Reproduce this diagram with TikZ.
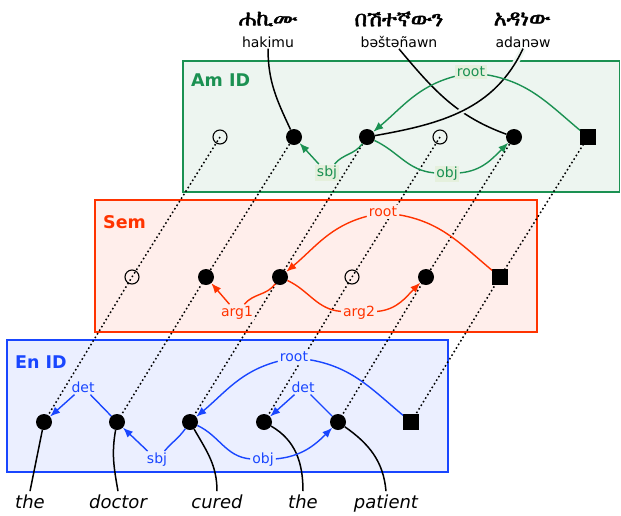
\documentclass[tikz,border=0pt]{standalone}
\usepackage{fontspec}
\setmainfont{DejaVu Sans}
\IfFontExistsTF{FreeSerif}
    {\newfontfamily\amfont[FakeBold=2]{FreeSerif}}
    {\newfontfamily\amfont{DejaVu Sans}}
\usetikzlibrary{arrows.meta}

\definecolor{amgreen}{RGB}{27,145,82}
\definecolor{amfill}{RGB}{237,245,240}
\definecolor{amtag}{RGB}{229,240,221}
\definecolor{semred}{RGB}{255,51,0}
\definecolor{semfill}{RGB}{255,238,235}
\definecolor{enblue}{RGB}{25,70,255}
\definecolor{enfill}{RGB}{235,239,255}

\begin{document}
\begin{tikzpicture}[x=1pt,y=-1pt,>={Latex[length=10pt,width=8pt]},
    tag/.style={inner sep=1.5pt,font=\fontsize{14}{14}\selectfont},
    dotlink/.style={draw,black,line width=1.5pt,dash pattern=on 1.6pt off 2.6pt},
    wordlink/.style={draw,black,line width=1.5pt}]
    \useasboundingbox (0,0) rectangle (621,515);

    % panels
    \draw[amgreen,fill=amfill,line width=1.3pt] (183,61) rectangle (619.5,192);
    \draw[semred,fill=semfill,line width=1.3pt] (95,200) rectangle (537,332);
    \draw[enblue,fill=enfill,line width=1.3pt] (7,340) rectangle (448,472);
    \begin{scope}[every node/.style={anchor=west,inner sep=0pt,font=\bfseries\fontsize{17.5}{17.5}\selectfont}]
        \node[amgreen] (amtitle) at (191,80) {Am ID};
        \node[semred] (semtitle) at (103,222) {Sem};
        \node[enblue] (entitle) at (15,362) {En ID};
    \end{scope}

    % amharic words on top
    \begin{scope}[every node/.style={inner sep=1pt,font=\fontsize{14}{14}\selectfont}]
        \node[font=\amfont\fontsize{22}{22}\selectfont] (am1) at (268,19) {ሐኪሙ};
        \node[font=\amfont\fontsize{22}{22}\selectfont] (am2) at (399,19) {በሽተኛውን};
        \node[font=\amfont\fontsize{22}{22}\selectfont] (am3) at (522,19) {አዳነው};
        \node (tr1) at (268,42) {hakimu};
        \node (tr2) at (399,42) {bəštəñawn};
        \node (tr3) at (523,42) {adanəw};
    \end{scope}

    % english words below
    \begin{scope}[every node/.style={anchor=base,inner sep=3pt,font=\itshape\fontsize{18}{18}\selectfont}]
        \node (w1) at (30,508) {the};
        \node (w2) at (118,508) {doctor};
        \node (w3) at (217,508) {cured};
        \node (w4) at (303,508) {the};
        \node (w5) at (386,508) {patient};
    \end{scope}

    % tokens
    \begin{scope}[every node/.style={fill=black,circle,inner sep=0pt,minimum size=16pt}]
        \node[fill=none,draw,line width=1.1pt,minimum size=14pt] (a1) at (220,137) {};
        \node (a2) at (294,137) {};
        \node (a3) at (367,137) {};
        \node[fill=none,draw,line width=1.1pt,minimum size=14pt] (a4) at (440,137) {};
        \node (a5) at (514,137) {};
        \node[rectangle,minimum size=15.5pt] (a6) at (588,137) {};

        \node[fill=none,draw,line width=1.1pt,minimum size=14pt] (s1) at (132,277) {};
        \node (s2) at (206,277) {};
        \node (s3) at (280,277) {};
        \node[fill=none,draw,line width=1.1pt,minimum size=14pt] (s4) at (352,277) {};
        \node (s5) at (426,277) {};
        \node[rectangle,minimum size=15.5pt] (s6) at (500,277) {};

        \node (e1) at (44,422) {};
        \node (e2) at (117,422) {};
        \node (e3) at (190,422) {};
        \node (e4) at (264,422) {};
        \node (e5) at (338,422) {};
        \node[rectangle,minimum size=15.5pt] (e6) at (411,422) {};
    \end{scope}

    % alignment lines
    \foreach \i in {1,...,6}
        \draw[dotlink] (a\i.center) -- (s\i.center) -- (e\i.center);

    % word links
    \draw[wordlink] (tr1.south) to[out=-90,in=115] (a2);
    \draw[wordlink] (tr2.south) to[out=-50,in=160] (a5);
    \draw[wordlink,preaction={draw=amfill,line width=6pt}] (tr3.south) to[out=-115,in=10] (a3);
    \draw[wordlink] (e1) -- (w1.north);
    \draw[wordlink] (e2) to[out=-100,in=100] (w2.north);
    \draw[wordlink] (e3) to[out=-60,in=90] (w3.north);
    \draw[wordlink] (e4) to[out=-30,in=90] (w4.north);
    \draw[wordlink] (e5) to[out=-35,in=95] (w5.north);

    % amharic dependencies
    \begin{scope}[amgreen,line width=1.4pt]
        \node[tag,fill=amtag] (aroot) at (471,72) {root};
        \node[tag,fill=amtag] (asbj) at (327,173) {sbj};
        \node[tag,fill=amtag] (aobj) at (447,174) {obj};
        \draw[->] (a6) to[out=140,in=-10] (aroot) to[out=195,in=40] (a3);
        \draw[->] (a3) to[out=-125,in=50] (asbj) -- (a2);
        \draw[->] (a3) to[out=-25,in=175] (aobj) to[out=5,in=-135] (a5);
    \end{scope}

    % semantics
    \begin{scope}[semred,line width=1.4pt]
        \node[tag,fill=semfill] (sroot) at (383,212) {root};
        \node[tag,fill=semfill] (sarg1) at (237,313) {arg1};
        \node[tag,fill=semfill] (sarg2) at (359,313) {arg2};
        \draw[->] (s6) to[out=140,in=-10] (sroot) to[out=195,in=40] (s3);
        \draw[->] (s3) to[out=-125,in=50] (sarg1) -- (s2);
        \draw[->] (s3) to[out=-25,in=175] (sarg2) to[out=5,in=-135] (s5);
    \end{scope}

    % english dependencies
    \begin{scope}[enblue,line width=1.4pt]
        \node[tag,fill=enfill] (eroot) at (294,357) {root};
        \node[tag,fill=enfill] (edet1) at (83,387) {det};
        \node[tag,fill=enfill] (edet2) at (303,387) {det};
        \node[tag,fill=enfill] (esbj) at (157,460) {sbj};
        \node[tag,fill=enfill] (eobj) at (263,460) {obj};
        \draw[->] (e6) to[out=140,in=-10] (eroot) to[out=195,in=40] (e3);
        \draw[->] (e2) -- (edet1) -- (e1);
        \draw[->] (e5) -- (edet2) -- (e4);
        \draw[->] (e3) to[out=-125,in=50] (esbj) -- (e2);
        \draw[->] (e3) to[out=-25,in=175] (eobj) to[out=5,in=-135] (e5);
    \end{scope}
\end{tikzpicture}
\end{document}
